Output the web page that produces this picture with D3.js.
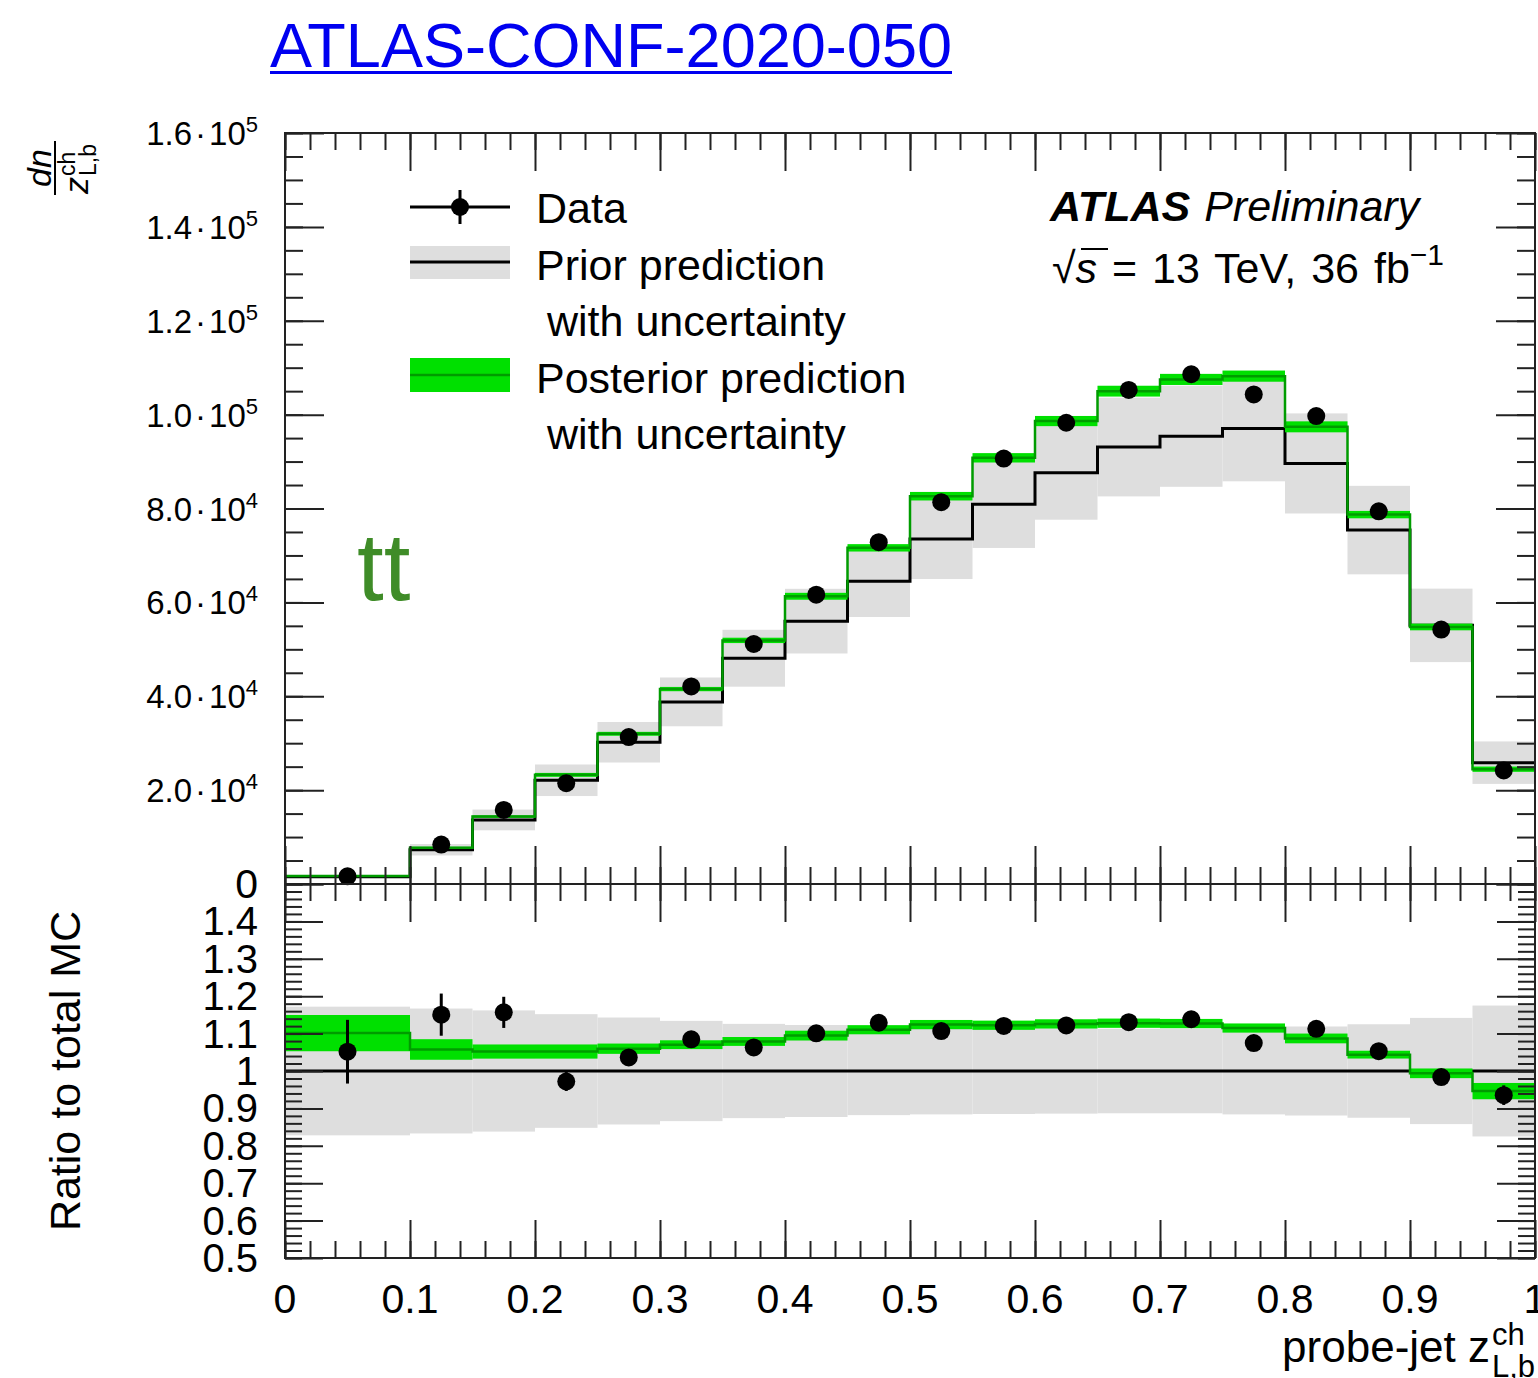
<!DOCTYPE html>
<html>
<head>
<meta charset="utf-8">
<script src="https://cdn.jsdelivr.net/npm/d3@7"></script>
<style>
  body { margin: 0; background: #fff; }
  svg { display: block; font-family: "Liberation Sans", Arial, Helvetica, sans-serif; }
</style>
</head>
<body>
<svg id="chart" width="1538" height="1378"></svg>
<script>
// bin edges of probe-jet z (first bin is double width)
const binEdges = [0, 0.1, 0.15, 0.2, 0.25, 0.3, 0.35, 0.4, 0.45, 0.5, 0.55, 0.6, 0.65, 0.7, 0.75, 0.8, 0.85, 0.9, 0.95, 1.0]

const dataCounts = [1630, 8400, 15790, 21480, 31300, 42090, 51130, 61650, 72820, 81350, 90650, 98270, 105250, 108600, 104300, 99700, 79400, 54200, 24180]
const dataRelErr = [0.081, 0.049, 0.036, 0.026, 0.012, 0.011, 0.010, 0.010, 0.010, 0.010, 0.010, 0.010, 0.010, 0.010, 0.010, 0.011, 0.012, 0.015, 0.028]

const priorCounts = [1550, 7300, 13650, 22100, 30200, 38800, 48100, 56000, 64500, 73500, 80900, 87600, 93100, 95400, 97050, 89600, 75400, 55100, 25850]
const priorRelErr = [0.172, 0.167, 0.162, 0.152, 0.143, 0.134, 0.126, 0.123, 0.118, 0.116, 0.115, 0.114, 0.113, 0.113, 0.116, 0.119, 0.125, 0.142, 0.175]

const postCounts = [1707, 7720, 14360, 23250, 32000, 41530, 51900, 61300, 71620, 82620, 90800, 98630, 105000, 107500, 108200, 97400, 78700, 54760, 24460]
const postRelErr = [0.044, 0.026, 0.018, 0.018, 0.013, 0.011, 0.011, 0.012, 0.011, 0.011, 0.011, 0.011, 0.011, 0.011, 0.011, 0.012, 0.010, 0.013, 0.023]

const xTickLabels = ["0", "0.1", "0.2", "0.3", "0.4", "0.5", "0.6", "0.7", "0.8", "0.9", "1"]
const ratioTickLabels = ["0.5", "0.6", "0.7", "0.8", "0.9", "1", "1.1", "1.2", "1.3", "1.4"]

const legendRows = ["Data", "Prior prediction", "with uncertainty", "Posterior prediction", "with uncertainty"]

const colors = {band: "#dedede", post: "#00e000", postLine: "#009c00", frame: "#222", tt: "#3f8c28", link: "#0000f0"}

const svg = d3.select("#chart")
const frame = {left: 285, right: 1535, top: 133, mid: 884, bottom: 1258}

const x = d3.scaleLinear().domain([0, 1]).range([frame.left, frame.right])
const y = d3.scaleLinear().domain([0, 1.6e5]).range([frame.mid, frame.top])
const yr = d3.scaleLinear().domain([0.5, 1.5]).range([frame.bottom, frame.mid])

const bins = priorCounts.map((p, i) => ({
	x0: binEdges[i], x1: binEdges[i + 1], xc: (binEdges[i] + binEdges[i + 1]) / 2,
	prior: p, priorErr: p * priorRelErr[i],
	post: postCounts[i], postErr: postCounts[i] * postRelErr[i],
	data: dataCounts[i], dataErr: dataCounts[i] * dataRelErr[i],
}))

svg.append("rect").attr("width", 1538).attr("height", 1378).attr("fill", "#fff")

//step outline through every bin, like a ROOT "hist" draw
function stepPath(ys, val) {
	const pts = bins.flatMap(b => [[x(b.x0), ys(val(b))], [x(b.x1), ys(val(b))]])
	return d3.line()(pts)
}

function drawPanel(g, ys, p) {
	g.append("g").selectAll("rect")
		.data(bins).join("rect")
			.attr("x", b => x(b.x0)).attr("width", b => x(b.x1) - x(b.x0))
			.attr("y", b => ys(p.priorHi(b))).attr("height", b => ys(p.priorLo(b)) - ys(p.priorHi(b)))
			.attr("fill", colors.band)

	g.append("path").attr("d", stepPath(ys, p.prior))
		.attr("fill", "none").attr("stroke", "#000").attr("stroke-width", 3)

	g.append("g").selectAll("rect")
		.data(bins).join("rect")
			.attr("x", b => x(b.x0)).attr("width", b => x(b.x1) - x(b.x0))
			.attr("y", b => ys(p.postHi(b))).attr("height", b => ys(p.postLo(b)) - ys(p.postHi(b)))
			.attr("fill", colors.post)

	g.append("path").attr("d", stepPath(ys, p.post))
		.attr("fill", "none").attr("stroke", colors.postLine).attr("stroke-width", 2.5)

	const pts = g.append("g").selectAll("g").data(bins).join("g")
	pts.append("line")
		.attr("x1", b => x(b.xc)).attr("x2", b => x(b.xc))
		.attr("y1", b => ys(p.dataHi(b))).attr("y2", b => ys(p.dataLo(b)))
		.attr("stroke", "#000").attr("stroke-width", 3)
	pts.append("circle")
		.attr("cx", b => x(b.xc)).attr("cy", b => ys(p.data(b))).attr("r", 9)
		.attr("fill", "#000")
}

drawPanel(svg.append("g"), y, {
	prior: b => b.prior, priorLo: b => b.prior - b.priorErr, priorHi: b => b.prior + b.priorErr,
	post: b => b.post, postLo: b => b.post - b.postErr, postHi: b => b.post + b.postErr,
	data: b => b.data, dataLo: b => b.data - b.dataErr, dataHi: b => b.data + b.dataErr,
})

drawPanel(svg.append("g"), yr, {
	prior: b => 1, priorLo: b => 1 - b.priorErr / b.prior, priorHi: b => 1 + b.priorErr / b.prior,
	post: b => b.post / b.prior, postLo: b => (b.post - b.postErr) / b.prior, postHi: b => (b.post + b.postErr) / b.prior,
	data: b => b.data / b.prior, dataLo: b => (b.data - b.dataErr) / b.prior, dataHi: b => (b.data + b.dataErr) / b.prior,
})

// ticks: ROOT style, inward on all four sides of both pads
const ticksG = svg.append("g").attr("color", colors.frame)
function addTicks(axisFn, scale, values, size, transform) {
	ticksG.append("g").attr("transform", transform)
		.call(axisFn(scale).tickValues(values).tickSize(-size).tickFormat(""))
		.call(a => a.select(".domain").remove())
		.call(a => a.selectAll("line").attr("stroke-width", 2))
}
const xMinor = d3.range(0, 1.0001, 0.02), xMajor = d3.range(0, 1.0001, 0.1)
const yMinor = d3.range(0, 160001, 5000), yMajor = d3.range(0, 160001, 20000)
const rMinor = d3.range(0.5, 1.5001, 0.02), rMajor = d3.range(0.5, 1.5001, 0.1)

for (const [vals, len] of [[xMinor, 17], [xMajor, 38]]) {
	addTicks(d3.axisTop, x, vals, len, `translate(0,${frame.top})`)
	addTicks(d3.axisBottom, x, vals, len, `translate(0,${frame.mid})`)
	addTicks(d3.axisTop, x, vals, len, `translate(0,${frame.mid})`)
	addTicks(d3.axisBottom, x, vals, len, `translate(0,${frame.bottom})`)
}
for (const [vals, len] of [[yMinor, 18], [yMajor, 39]]) {
	addTicks(d3.axisLeft, y, vals, len, `translate(${frame.left},0)`)
	addTicks(d3.axisRight, y, vals, len, `translate(${frame.right},0)`)
}
for (const [vals, len] of [[rMinor, 17], [rMajor, 38]]) {
	addTicks(d3.axisLeft, yr, vals, len, `translate(${frame.left},0)`)
	addTicks(d3.axisRight, yr, vals, len, `translate(${frame.right},0)`)
}

svg.append("rect").attr("x", frame.left).attr("y", frame.top)
	.attr("width", frame.right - frame.left).attr("height", frame.mid - frame.top)
	.attr("fill", "none").attr("stroke", colors.frame).attr("stroke-width", 2)
svg.append("rect").attr("x", frame.left).attr("y", frame.mid)
	.attr("width", frame.right - frame.left).attr("height", frame.bottom - frame.mid)
	.attr("fill", "none").attr("stroke", colors.frame).attr("stroke-width", 2)

// tick labels
svg.append("g").selectAll("text").data(xMajor).join("text")
	.attr("x", d => x(d)).attr("y", 1313).attr("text-anchor", "middle")
	.attr("font-size", 41).text((d, i) => xTickLabels[i])

svg.append("g").selectAll("text").data(rMajor.slice(0, 10)).join("text")
	.attr("x", 258).attr("y", d => yr(d) + 14).attr("text-anchor", "end")
	.attr("font-size", 40).text((d, i) => ratioTickLabels[i])

svg.append("g").selectAll("text").data(yMajor).join("text")
	.attr("x", 258).attr("y", d => y(d) + (d === 0 ? 14 : 12)).attr("text-anchor", "end")
	.attr("font-size", d => d === 0 ? 41 : 33)
	.each(function(d) {
		const t = d3.select(this)
		if (d === 0) { t.text("0"); return }
		const exp = Math.floor(Math.log10(d))
		t.append("tspan").text((d / 10 ** exp).toFixed(1))
		t.append("tspan").attr("dx", 3).text("·")
		t.append("tspan").attr("dx", 3).text("10")
		t.append("tspan").attr("dy", -13).attr("font-size", 22).text(exp)
	})

// axis titles
const yTitle = svg.append("g").attr("transform", "translate(58,168) rotate(-90)")
yTitle.append("text").attr("x", 0).attr("y", -7).attr("text-anchor", "middle")
	.attr("font-size", 34).attr("font-style", "italic").text("dn")
yTitle.append("line").attr("x1", -27).attr("x2", 27).attr("y1", -3).attr("y2", -3)
	.attr("stroke", "#000").attr("stroke-width", 2)
yTitle.append("text").attr("x", -26).attr("y", 30).attr("font-size", 34).attr("font-style", "italic").text("z")
yTitle.append("text").attr("x", -8).attr("y", 17).attr("font-size", 23).text("ch")
yTitle.append("text").attr("x", -8).attr("y", 38).attr("font-size", 23).text("L,b")

svg.append("text").attr("transform", "translate(80,1071) rotate(-90)")
	.attr("text-anchor", "middle").attr("font-size", 43).text("Ratio to total MC")

svg.append("text").attr("x", 1490).attr("y", 1362).attr("text-anchor", "end")
	.attr("font-size", 44).text("probe-jet z")
svg.append("text").attr("x", 1492).attr("y", 1345).attr("font-size", 31).text("ch")
svg.append("text").attr("x", 1492).attr("y", 1377).attr("font-size", 31).text("L,b")

// legend
const leg = svg.append("g")
leg.append("line").attr("x1", 410).attr("x2", 510).attr("y1", 207).attr("y2", 207).attr("stroke", "#000").attr("stroke-width", 3)
leg.append("line").attr("x1", 460).attr("x2", 460).attr("y1", 190).attr("y2", 224).attr("stroke", "#000").attr("stroke-width", 3)
leg.append("circle").attr("cx", 460).attr("cy", 207).attr("r", 9).attr("fill", "#000")
leg.append("rect").attr("x", 410).attr("y", 246).attr("width", 100).attr("height", 33).attr("fill", colors.band)
leg.append("line").attr("x1", 410).attr("x2", 510).attr("y1", 262).attr("y2", 262).attr("stroke", "#000").attr("stroke-width", 3)
leg.append("rect").attr("x", 410).attr("y", 358).attr("width", 100).attr("height", 34).attr("fill", colors.post)
leg.append("line").attr("x1", 410).attr("x2", 510).attr("y1", 375).attr("y2", 375).attr("stroke", colors.postLine).attr("stroke-width", 2.5)
leg.selectAll("text.row").data(legendRows).join("text").classed("row", true)
	.attr("x", (d, i) => d.startsWith("with") ? 547 : 536)
	.attr("y", (d, i) => 223 + i * 56.5)
	.attr("font-size", 43).text(d => d)

// ATLAS label
const atl = svg.append("text").attr("x", 1050).attr("y", 221).attr("font-size", 43).attr("font-style", "italic")
atl.append("tspan").attr("font-weight", "bold").text("ATLAS")
atl.append("tspan").attr("dx", 14).text("Preliminary")

const lumi = svg.append("text").attr("x", 1052).attr("y", 283).attr("font-size", 43).attr("word-spacing", 3)
lumi.append("tspan").text("√")
lumi.append("tspan").attr("font-style", "italic").text("s")
lumi.append("tspan").text(" = 13 TeV, 36 fb")
lumi.append("tspan").attr("dy", -18).attr("font-size", 30).text("−1")
svg.append("line").attr("x1", 1081).attr("x2", 1108).attr("y1", 249).attr("y2", 249).attr("stroke", "#000").attr("stroke-width", 2)

// process tag
svg.append("text").attr("x", 357).attr("y", 600).attr("font-size", 96).attr("fill", colors.tt).text("tt")

// document reference
svg.append("text").attr("x", 270).attr("y", 67).attr("font-size", 63).attr("fill", colors.link)
	.attr("textLength", 682).attr("lengthAdjust", "spacingAndGlyphs").text("ATLAS-CONF-2020-050")
svg.append("rect").attr("x", 270).attr("y", 71).attr("width", 682).attr("height", 3).attr("fill", colors.link)
</script>
</body>
</html>
